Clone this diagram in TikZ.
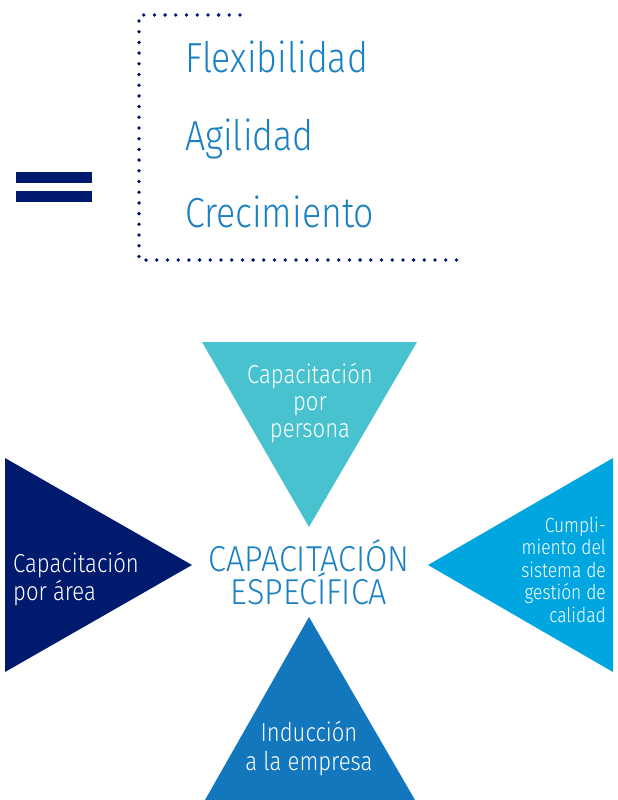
\documentclass[tikz,border=0pt]{standalone}
\usepackage{fontspec}
\IfFontExistsTF{Fira Sans Light}{%
  \setmainfont{Fira Sans Light}[FakeStretch=0.85]
  \newfontfamily\capsfont{Fira Sans Light}[FakeStretch=0.9]}{%
  \setmainfont{Fira Sans}[FakeStretch=0.85]
  \newfontfamily\capsfont{Fira Sans}[FakeStretch=0.9]}
\usetikzlibrary{positioning}
\definecolor{navyblue}{HTML}{001A6E}
\definecolor{titleblue}{HTML}{1A80C4}
\definecolor{turquoise}{HTML}{48C2CF}
\definecolor{skyblue}{HTML}{00A6E0}
\definecolor{midblue}{HTML}{1277BD}

\tikzset{
	keyword/.style={
			anchor=base west,
			inner sep=0pt,
			text=titleblue,
			font=\fontsize{42}{48}\selectfont
		},
	centretext/.style={
			anchor=base,
			align=center,
			inner sep=0pt,
			text=titleblue,
			font=\capsfont\fontsize{36}{33}\selectfont
		},
	tritext/.style={
			inner sep=0pt,
			text=white,
			font=\fontsize{26}{27.5}\selectfont
		},
	dotline/.style={
			navyblue,
			line width=3.8pt,
			line cap=round,
			dash pattern=on 0pt off 10.7pt
		}
}

\begin{document}
\begin{tikzpicture}[x=1pt, y=-1pt]
\useasboundingbox (0,0) rectangle (618,800);

% equals sign
\fill[navyblue] (16,172) rectangle (92,183);
\fill[navyblue] (16,191) rectangle (92,202);

% dotted bracket
\draw[dotline] (240,15) -- (139,15) -- (139,260) -- (460,260);

\node[keyword] (flex) at (185,72)  {Flexibilidad};
\node[keyword] (agil) at (185,150) {Agilidad};
\node[keyword] (crec) at (185,227) {Crecimiento};

% triangles
\fill[turquoise] (202,342) -- (417,342) -- (309,527) -- cycle;
\fill[navyblue] (5,458) -- (5,672) -- (192,565) -- cycle;
\fill[skyblue] (613,458) -- (613,672) -- (428,565) -- cycle;
\fill[midblue] (205,800) -- (415,800) -- (309,617) -- cycle;

\node[centretext] (centre) at (309,604) {CAPACITACIÓN\\ESPECÍFICA};

\node[tritext, anchor=base, align=center, font=\fontsize{26}{27}\selectfont] (persona) at (310,437) {Capacitación\\por\\persona};
\node[tritext, anchor=base west, align=left] (area) at (13,600) {Capacitación\\por área};
\node[tritext, anchor=base east, align=right, font=\fontsize{20.5}{22.5}\selectfont] (calidad) at (606,622) {Cumpli-\\miento del\\sistema de\\gestión de\\calidad};
\node[tritext, anchor=base, align=center, font=\fontsize{26}{29}\selectfont] (empresa) at (309,770) {Inducción\\a la empresa};
\end{tikzpicture}
\end{document}
